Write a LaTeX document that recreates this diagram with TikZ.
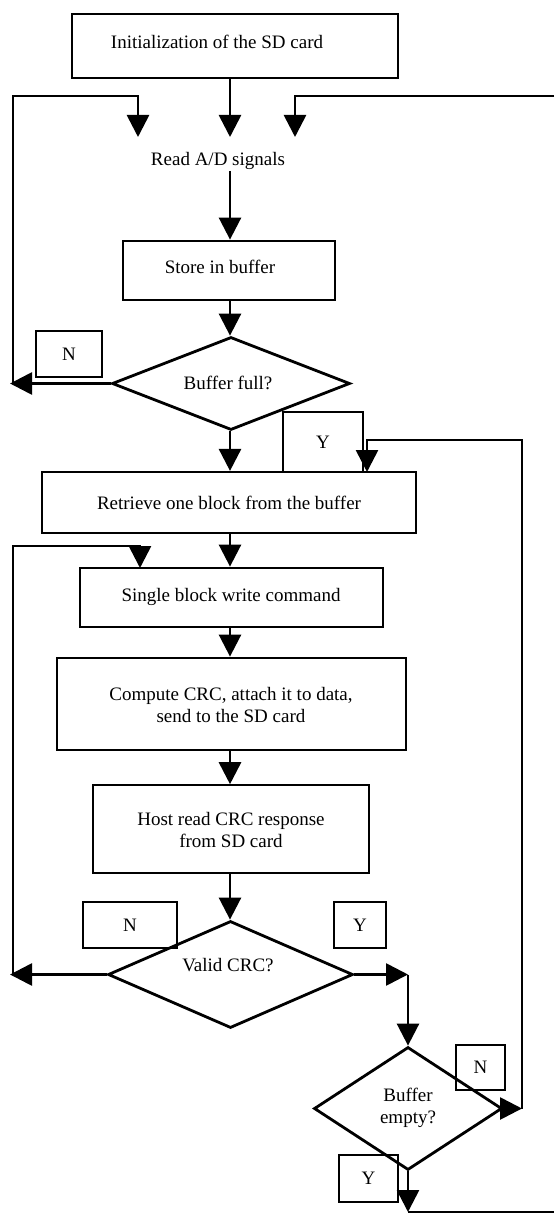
\documentclass[tikz,border=0pt]{standalone}
\usepackage{fontspec}
\setmainfont{Liberation Serif}
\usetikzlibrary{arrows.meta,shapes.geometric}
\begin{document}
\begin{tikzpicture}[x=1pt,y=-1pt,
  box/.style={draw, line width=2.8pt, inner sep=0pt},
  thinbox/.style={draw, line width=1.6pt, inner sep=0pt},
  dec/.style={draw, shape=diamond, line width=2.8pt, inner sep=0pt},
  tag/.style={draw, line width=2.4pt, inner sep=0pt, font=\fontsize{19}{21}\selectfont},
  txt/.style={inner sep=0pt, align=center, font=\fontsize{19}{22}\selectfont},
  conn/.style={line width=2.7pt},
  arr/.style={conn, -{Triangle[width=22pt,length=22pt]}}]
\useasboundingbox (0,0) rectangle (554,1214);
\fill[white] (0,0) rectangle (554,1214);
\coordinate (ax) at (230,0);
% boxes
\node[box, line width=2.2pt, minimum width=326pt, minimum height=64pt] (init) at (235,46) {};
\node[txt] (initT) at (217,42) {Initialization of the SD card};
\node[txt] (read) at (218,161) {Read A/D signals};
\node[box, minimum width=212pt, minimum height=59pt] (store) at (229,270.5) {};
\node[txt] (storeT) at (220,267) {Store in buffer};
\node[dec, minimum width=238pt, minimum height=93pt] (bf) at (231,383.5) {};
\node[txt] (bfT) at (228,383) {Buffer full?};
\node[tag, minimum width=66pt, minimum height=46pt] (n1) at (69,354) {N};
\node[tag, minimum width=80pt, minimum height=60pt] (y1) at (323,442) {Y};
\node[box, line width=2.2pt, minimum width=374pt, minimum height=61pt] (ret) at (229,502.5) {};
\node[txt] (retT) at (229,503) {Retrieve one block from the buffer};
\node[box, minimum width=303pt, minimum height=59pt] (single) at (231.5,597.5) {};
\node[txt] (singleT) at (231,597) {Single block write command};
\node[box, minimum width=349pt, minimum height=92pt] (comp) at (231.5,704) {};
\node[txt] (compT) at (231,705) {Compute CRC, attach it to data,\\send to the SD card};
\node[thinbox, minimum width=276pt, minimum height=88pt] (host) at (231,829) {};
\node[txt] (hostT) at (231,830) {Host read CRC response\\from SD card};
\node[dec, minimum width=245pt, minimum height=107pt] (vc) at (230.5,974.5) {};
\node[txt] (vcT) at (228,965) {Valid CRC?};
\node[tag, minimum width=94pt, minimum height=46pt] (n2) at (130,925) {N};
\node[tag, minimum width=52pt, minimum height=46pt] (y2) at (360,925) {Y};
\node[dec, minimum width=188pt, minimum height=123pt] (be) at (408,1108.5) {};
\node[txt] (beT) at (408,1108) {Buffer\\empty?};
\node[tag, minimum width=49pt, minimum height=45pt] (n3) at (480.5,1067.5) {N};
\node[tag, minimum width=59pt, minimum height=47pt] (y3) at (368.5,1178.5) {Y};
% coordinates
\coordinate (rdIn) at (230,137);
\coordinate (rdL) at (138,137);
\coordinate (rdR) at (295,137);
\coordinate (rdOut) at (230,171);
\coordinate (cTL) at (13,96);
\coordinate (cTR) at (554,96);
\coordinate (L1) at (13,383.5);
\coordinate (bfN) at (10,383.5);
\coordinate (R1) at (522,1108.5);
\coordinate (cRT) at (522,440);
\coordinate (retR) at (367,472);
\coordinate (cML) at (13,546);
\coordinate (sgL) at (140,568);
\coordinate (L2) at (13,974.5);
\coordinate (vcN) at (10,974.5);
\coordinate (vcY) at (408,974.5);
\coordinate (beY) at (408,1212);
\coordinate (cBR) at (554,1212);
% connectors
\draw[arr] (init.south -| ax) -- (rdIn);
\draw[arr] (L1) -- (cTL) -| (rdL);
\draw[arr] (cTR) -| (rdR);
\draw[arr] (rdOut) -- (store.north -| ax);
\draw[arr] (store.south -| ax) -- (bf.north -| ax);
\draw[arr] (bf.west) -- (bfN);
\draw[arr] (bf.south -| ax) -- (ret.north -| ax);
\draw[arr] (ret.south -| ax) -- (single.north -| ax);
\draw[arr] (L2) -- (cML) -| (sgL);
\draw[arr] (single.south -| ax) -- (comp.north -| ax);
\draw[arr] (comp.south -| ax) -- (host.north -| ax);
\draw[arr] (host.south -| ax) -- (vc.north -| ax);
\draw[arr] (vc.west) -- (vcN);
\draw[arr] (vc.east) -- (vcY);
\draw[arr] (vcY) -- (be.north);
\draw[arr] (be.east) -- (R1);
\draw[arr] (R1) -- (cRT) -| (retR);
\draw[arr] (be.south) -- (beY);
\draw[conn] (beY) -- (cBR);
\end{tikzpicture}
\end{document}
